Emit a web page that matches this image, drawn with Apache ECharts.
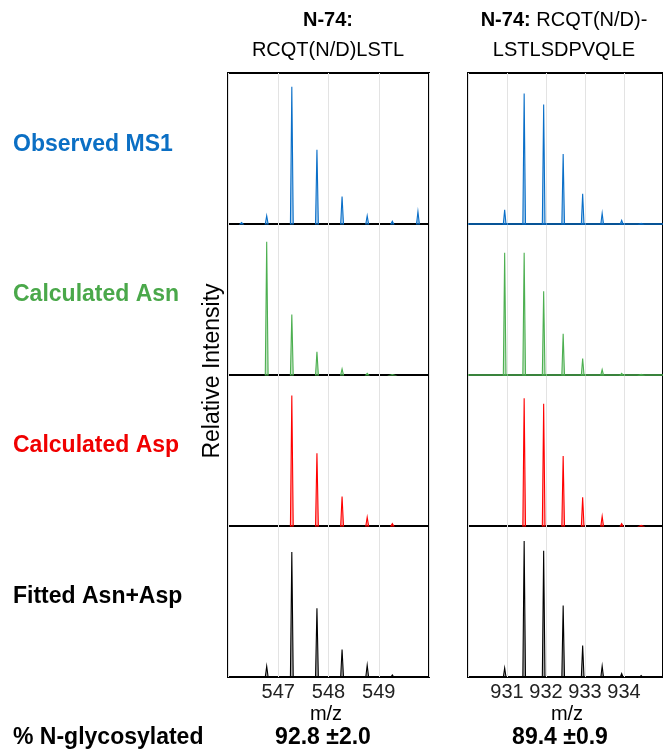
<!DOCTYPE html>
<html>
<head>
<meta charset="utf-8">
<script src="https://cdn.jsdelivr.net/npm/echarts@6/dist/echarts.min.js"></script>
<style>
  html, body { margin: 0; padding: 0; background: #fff; }
  #main { width: 663px; height: 750px; }
</style>
</head>
<body>
<div id="main"></div>
<script>
// isotope peak centroids (m/z) and relative intensities
var mzLeft  = [546.27, 546.77, 547.27, 547.77, 548.27, 548.77, 549.27, 549.78];
var mzRight = [930.94, 931.44, 931.94, 932.44, 932.94, 933.44, 933.94, 934.44];

var observedLeft = [0.01, 0.06, 1.00, 0.54, 0.20, 0.06, 0.02, 0.09];
var asnLeft      = [0, 0.97, 0.44, 0.17, 0.044, 0.012, 0.003, 0];
var aspLeft      = [0, 0, 0.95, 0.53, 0.215, 0.064, 0.017, 0];
var fittedLeft   = [0, 0.078, 0.91, 0.50, 0.20, 0.086, 0.015, 0];

var observedRight = [0.103, 0.95, 0.87, 0.51, 0.22, 0.078, 0.027, 0.005];
var asnRight      = [0.89, 0.89, 0.61, 0.30, 0.12, 0.04, 0.012, 0.004];
var aspRight      = [0, 0.93, 0.89, 0.51, 0.21, 0.071, 0.017, 0.004];
var fittedRight   = [0.066, 0.99, 0.92, 0.52, 0.23, 0.079, 0.025, 0.01];

var rowNames  = ['Observed MS1', 'Calculated Asn', 'Calculated Asp', 'Fitted Asn+Asp'];
var rowColors = ['#0a6fc8', '#4caf50', '#ff0000', '#000000'];
var textColors = ['#0b6fc4', '#4aa84a', '#f00000', '#000000'];
var glycoLeft  = '92.8 ±2.0';
var glycoRight = '89.4 ±0.9';

var leftData  = [observedLeft, asnLeft, aspLeft, fittedLeft];
var rightData = [observedRight, asnRight, aspRight, fittedRight];

var chart = echarts.init(document.getElementById('main'));

var tops = [73, 224, 375, 526];
var panelH = 151;
var grids = [], xAxes = [], yAxes = [], series = [];

function peakSeries(idx, mz, vals, color, halfW, baseline) {
  var data = [];
  for (var i = 0; i < mz.length; i++) {
    if (vals[i] > 0) data.push([mz[i], vals[i]]);
  }
  var s = {
    type: 'custom',
    xAxisIndex: idx,
    yAxisIndex: idx,
    data: data,
    silent: true,
    renderItem: function (params, api) {
      var m = api.value(0), h = api.value(1);
      var a = api.coord([m - halfW, 0]);
      var b = api.coord([m, h]);
      var c = api.coord([m + halfW, 0]);
      return {
        type: 'polygon',
        shape: { points: [a, b, c] },
        style: { fill: color, fillOpacity: 0.35, stroke: color, lineWidth: 1.1 }
      };
    }
  };
  if (baseline) {
    s.markLine = {
      silent: true, symbol: 'none', label: { show: false },
      lineStyle: { color: color, width: 1.5, type: 'solid' },
      data: [{ yAxis: 0 }]
    };
  }
  return s;
}

for (var r = 0; r < 4; r++) {
  var bottom = r === 3;
  // left column
  grids.push({ left: 228, width: 201, top: tops[r], height: panelH,
    show: true, borderColor: '#000', borderWidth: 2, backgroundColor: 'transparent' });
  // right column (runs past the page edge)
  grids.push({ left: 468, width: 202, top: tops[r], height: panelH,
    show: true, borderColor: '#000', borderWidth: 2, backgroundColor: 'transparent' });

  [[546, 550], [930, 935]].forEach(function (rng) {
    xAxes.push({
      type: 'value', gridIndex: xAxes.length, min: rng[0], max: rng[1], interval: 1,
      axisLine: { show: false }, axisTick: { show: false },
      splitLine: { show: true, lineStyle: { color: '#e3e3e3', width: 1 } },
      axisLabel: { show: bottom, showMinLabel: false, showMaxLabel: false, margin: 5,
        fontFamily: 'Liberation Sans, Arial, sans-serif', fontSize: 20, color: '#222' }
    });
    yAxes.push({ type: 'value', gridIndex: yAxes.length, min: 0, max: 1.1, show: false });
  });

  series.push(peakSeries(2 * r, mzLeft, leftData[r], rowColors[r], 0.028, false));
  series.push(peakSeries(2 * r + 1, mzRight, rightData[r], rowColors[r], 0.034, r < 2));
}

var ff = 'Liberation Sans, Arial, sans-serif';
var graphics = [];
function txt(x, y, text, size, weight, color, extra) {
  var el = { type: 'text', x: x, y: y, silent: true,
    style: { text: text, font: weight + ' ' + size + 'px ' + ff, fill: color,
      align: 'center', verticalAlign: 'middle' } };
  if (extra) { for (var k in extra) el[k] = extra[k]; }
  return el;
}
graphics.push(txt(328, 20, 'N-74:', 20, 'bold', '#000'));
graphics.push(txt(328, 50, 'RCQT(N/D)LSTL', 20, 'normal', '#000'));
graphics.push({ type: 'text', x: 564, y: 20, silent: true,
  style: { text: '{b|N-74:} RCQT(N/D)-', font: '20px ' + ff, fill: '#000',
    align: 'center', verticalAlign: 'middle',
    rich: { b: { fontWeight: 'bold', fontSize: 20, fontFamily: ff } } } });
graphics.push(txt(564, 50, 'LSTLSDPVQLE', 20, 'normal', '#000'));

var rowY = [145, 295, 446, 597];
for (var i = 0; i < 4; i++) {
  var t = txt(13, rowY[i], rowNames[i], 23, 'bold', textColors[i]);
  t.style.align = 'left';
  graphics.push(t);
}
graphics.push(txt(213, 371, 'Relative Intensity', 23, 'normal', '#000', { rotation: Math.PI / 2 }));
graphics.push(txt(326, 714, 'm/z', 20, 'normal', '#000'));
graphics.push(txt(567, 714, 'm/z', 20, 'normal', '#000'));
var g = txt(13, 738, '% N-glycosylated', 23, 'bold', '#000');
g.style.align = 'left';
graphics.push(g);
graphics.push(txt(323, 738, glycoLeft, 23, 'bold', '#000'));
graphics.push(txt(560, 738, glycoRight, 23, 'bold', '#000'));

chart.setOption({
  animation: false,
  grid: grids,
  xAxis: xAxes,
  yAxis: yAxes,
  series: series,
  graphic: graphics
});
</script>
</body>
</html>
